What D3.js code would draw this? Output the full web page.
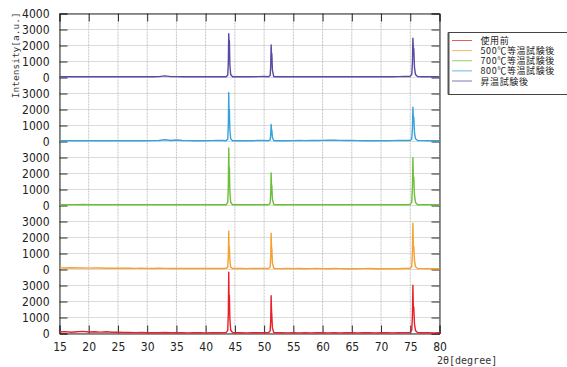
<!DOCTYPE html>
<html>
<head>
<meta charset="utf-8">
<script src="https://cdn.jsdelivr.net/npm/d3@7"></script>
<style>
  body { margin: 0; background: #fff; }
  svg { display: block; }
</style>
</head>
<body>
<svg id="chart" width="567" height="367"></svg>
<script>
// ---- data -------------------------------------------------------------
// stacked XRD patterns, bottom to top
const seriesNames = ["使用前", "500℃等温試験後", "700℃等温試験後", "800℃等温試験後", "昇温試験後"];
const seriesColors = ["#e8202c", "#f5a030", "#6cbf3a", "#36a2dc", "#5a48a2"];

// scan angles for the background part of each pattern (2θ, degree)
const scanAngles = [15,16,17,18,19,20,21,22,23,24,25,26,27,28,29,30,31,32,33,34,
  35,36,37,38,39,40,41,42,43,44,45,46,47,48,49,50,51,52,53,54,
  55,56,57,58,59,60,61,62,63,64,65,66,67,68,69,70,71,72,73,74,
  75,76,77,78,79,80];

// background intensity on scanAngles
const bgUsed = [90,120,80,110,130,95,110,85,105,75, 85,65,70,55,60,50,55,45,60,50,
  45,50,40,45,55,40,50,45,55,60, 50,45,40,50,45,55,60,50,45,40,
  45,40,50,40,45,50,40,45,40,50, 45,40,50,45,40,45,50,40,45,55, 60,60,50,45,40,45];
const bg500 = [100,90,110,95,100,85,95,90,80,85, 80,75,85,70,75,70,65,75,70,65,
  70,60,65,70,60,65,60,70,65,70, 60,65,55,60,65,60,70,60,55,60,
  55,60,50,55,60,55,50,60,55,50, 55,50,55,60,50,55,50,55,50,60, 60,60,55,50,55,50];
const bg700 = [50,55,45,50,60,45,50,55,45,50, 45,50,55,45,50,45,50,55,45,50,
  45,50,45,55,50,45,50,45,50,55, 50,45,50,45,55,50,55,50,45,50,
  45,50,45,50,45,55,50,45,50,45, 50,45,50,45,50,45,50,45,50,55, 60,60,50,45,50,45];
const bg800 = [50,45,55,50,45,50,55,45,50,45, 50,55,45,50,55,50,55,60,110,60,
  95,60,55,50,55,50,55,60,65,60, 55,50,55,50,60,60,55,50,55,50,
  55,60,55,60,65,70,80,85,70,60, 60,55,50,55,50,55,50,55,60,65, 60,60,55,50,55,50];
const bgRamp = [45,50,45,55,50,45,50,45,55,50, 45,50,55,45,50,45,50,55,105,55,
  55,50,45,50,55,50,45,50,55,60, 55,50,45,50,55,60,55,50,45,50,
  50,45,50,55,50,45,50,55,50,45, 50,45,55,50,45,50,55,50,55,60, 60,60,50,55,50,45];

// diffraction peaks [2θ, intensity]
const peaksUsed = [
  [43.5,60],[43.78,200],[43.88,1300],[43.95,3830],[44.0,2300],[44.06,2375],[44.14,900],[44.28,220],[44.6,60],
  [50.75,50],[51.03,150],[51.13,800],[51.2,2360],[51.26,1500],[51.32,1100],[51.42,350],[51.65,60],
  [74.95,60],[75.25,200],[75.37,1100],[75.45,3020],[75.52,1700],[75.6,1640],[75.72,600],[75.9,180],[76.25,60]
];
const peaks500 = [
  [43.5,70],[43.78,150],[43.88,850],[43.95,2400],[44.0,1450],[44.06,1400],[44.14,560],[44.28,150],[44.6,60],
  [50.75,60],[51.03,140],[51.13,760],[51.2,2270],[51.26,1420],[51.32,1300],[51.42,400],[51.65,70],
  [74.95,60],[75.25,190],[75.37,1050],[75.45,2890],[75.52,1500],[75.6,1440],[75.72,560],[75.9,170],[76.25,60]
];
const peaks700 = [
  [43.5,50],[43.78,180],[43.88,1250],[43.95,3600],[44.0,2350],[44.06,2400],[44.14,850],[44.28,200],[44.6,50],
  [50.75,50],[51.03,130],[51.13,700],[51.2,2040],[51.26,1300],[51.32,1250],[51.42,380],[51.65,60],
  [74.95,50],[75.25,200],[75.37,1100],[75.45,2980],[75.52,1800],[75.6,1770],[75.72,650],[75.9,190],[76.25,50]
];
const peaks800 = [
  [43.5,50],[43.78,160],[43.88,1050],[43.95,3060],[44.0,1950],[44.06,2000],[44.14,720],[44.28,180],[44.6,50],
  [50.75,50],[51.03,100],[51.13,400],[51.2,1060],[51.26,760],[51.32,700],[51.42,250],[51.65,60],
  [74.95,60],[75.25,160],[75.37,800],[75.45,2140],[75.52,1550],[75.6,1520],[75.72,560],[75.9,170],[76.25,60]
];
const peaksRamp = [
  [43.5,50],[43.78,150],[43.88,950],[43.95,2730],[44.0,2250],[44.06,2300],[44.14,800],[44.28,190],[44.6,50],
  [50.75,50],[51.03,130],[51.13,700],[51.2,2040],[51.26,1500],[51.32,1480],[51.42,450],[51.65,60],
  [74.95,60],[75.25,180],[75.37,900],[75.45,2450],[75.52,1850],[75.6,1800],[75.72,620],[75.9,180],[76.25,60]
];

const backgrounds = [bgUsed, bg500, bg700, bg800, bgRamp];
const peakSets = [peaksUsed, peaks500, peaks700, peaks800, peaksRamp];

// axis ticks
const xTickValues = [15,20,25,30,35,40,45,50,55,60,65,70,75,80];
const panelTickLabels = ["0","1000","2000","3000"];
const topTickLabel = "4000";
const panelSpan = 4000;            // each pattern is shifted up by this much
const xTitle = "2θ[degree]";
const yTitle = "Intensity[a.u.]";

// ---- layout -----------------------------------------------------------
const svg = d3.select("#chart");
const plot = { left: 59.5, right: 439.5, top: 13.5, bottom: 333.5 };
const nPanels = seriesNames.length;

const x = d3.scaleLinear().domain([15, 80]).range([plot.left, plot.right]);
const y = d3.scaleLinear().domain([0, panelSpan * nPanels]).range([plot.bottom, plot.top]);

// tick positions on the stacked scale
const yTickValues = [];
for (let p = 0; p < nPanels; p++) {
  panelTickLabels.forEach((_, k) => yTickValues.push(p * panelSpan + k * 1000));
}
yTickValues.push(nPanels * panelSpan);
const yLabel = v => v === nPanels * panelSpan ? topTickLabel : panelTickLabels[(v % panelSpan) / 1000];

const tickFont = "'Liberation Sans Narrow', 'Arial Narrow', 'DejaVu Sans Condensed', sans-serif";

// grid
const grid = svg.append("g");
grid.selectAll("line.h").data(yTickValues).join("line")
  .attr("x1", plot.left).attr("x2", plot.right)
  .attr("y1", d => y(d)).attr("y2", d => y(d))
  .attr("stroke", "#b8b8b8").attr("stroke-width", 1).attr("stroke-dasharray", "1,1");
grid.selectAll("line.v").data(xTickValues).join("line")
  .attr("x1", d => x(d)).attr("x2", d => x(d))
  .attr("y1", plot.top).attr("y2", plot.bottom)
  .attr("stroke", "#c4c4c4").attr("stroke-width", 1).attr("stroke-dasharray", "2,1");

// axes (ticks point into the plot)
const tickLen = 8;
const axisBottom = d3.axisBottom(x).tickValues(xTickValues).tickSize(-tickLen).tickPadding(tickLen + 1).tickFormat(d3.format("d"));
const axisTop = d3.axisTop(x).tickValues(xTickValues).tickSize(-tickLen).tickFormat("");
const axisLeft = d3.axisLeft(y).tickValues(yTickValues).tickSize(-tickLen).tickPadding(tickLen + 2).tickFormat(yLabel);
const axisRight = d3.axisRight(y).tickValues(yTickValues).tickSize(-tickLen).tickFormat("");

function styleAxis(g) {
  g.select(".domain").attr("stroke", "#2a2a2a");
  g.selectAll(".tick line").attr("stroke", "#2a2a2a");
  g.selectAll(".tick text").attr("fill", "#222").style("font-family", tickFont).style("font-size", "12px");
}
svg.append("g").attr("transform", `translate(0,${plot.bottom})`).call(axisBottom).call(styleAxis);
svg.append("g").attr("transform", `translate(0,${plot.top})`).call(axisTop).call(styleAxis);
svg.append("g").attr("transform", `translate(${plot.left},0)`).call(axisLeft).call(styleAxis);
svg.append("g").attr("transform", `translate(${plot.right},0)`).call(axisRight).call(styleAxis);

// ---- patterns ---------------------------------------------------------
function patternPoints(i) {
  const pk = peakSets[i];
  const windows = [];
  for (let a = 0; a < pk.length; a++) {
    const start = pk[a][0];
    let b = a;
    while (b + 1 < pk.length && pk[b + 1][0] - pk[b][0] < 1) b++;
    windows.push([start, pk[b][0]]);
    a = b;
  }
  const bg = scanAngles.map((t, k) => [t, backgrounds[i][k]])
    .filter(([t]) => !windows.some(([s, e]) => t >= s && t <= e));
  return bg.concat(pk).sort((p, q) => p[0] - q[0]);
}

const line = d3.line().x(d => x(d[0])).y(d => d[1]);
const lines = svg.append("g");
seriesNames.forEach((name, i) => {
  const pts = patternPoints(i).map(([t, v]) => [t, y(i * panelSpan + v)]);
  lines.append("path")
    .attr("d", line(pts))
    .attr("fill", "none")
    .attr("stroke", seriesColors[i])
    .attr("stroke-width", 1.4)
    .attr("stroke-linejoin", "round");
});

// ---- titles -----------------------------------------------------------
svg.append("text")
  .attr("transform", `translate(15,${(plot.top + 97) / 2}) rotate(-90)`)
  .attr("text-anchor", "middle").attr("dominant-baseline", "central")
  .style("font-family", "'DejaVu Sans Mono', monospace").style("font-size", "9.5px")
  .attr("fill", "#333")
  .text(yTitle);

svg.append("text")
  .attr("x", 437).attr("y", 363.5)
  .style("font-family", "'DejaVu Sans Mono', monospace").style("font-size", "10px")
  .attr("fill", "#333")
  .text(xTitle);

// ---- legend -----------------------------------------------------------
const legend = svg.append("g");
legend.append("rect")
  .attr("x", 448.5).attr("y", 32.5).attr("width", 130).attr("height", 62)
  .attr("fill", "#fff").attr("stroke", "#444").attr("stroke-width", 1);
legend.append("line")
  .attr("x1", 448.5).attr("x2", 448.5).attr("y1", 32.5).attr("y2", 94.5)
  .attr("stroke", "#555").attr("stroke-width", 2);
const rowY = d3.scalePoint().domain(seriesNames).range([40.5, 81]);
seriesNames.forEach((name, i) => {
  legend.append("line")
    .attr("x1", 452).attr("x2", 472)
    .attr("y1", rowY(name)).attr("y2", rowY(name))
    .attr("stroke", seriesColors[i]).attr("stroke-width", 1).attr("stroke-opacity", 0.75);
  legend.append("text")
    .attr("x", 480.5).attr("y", rowY(name))
    .attr("dominant-baseline", "central")
    .style("font-family", "'Noto Sans CJK JP', sans-serif").style("font-size", "9px")
    .attr("letter-spacing", "0.6px")
    .attr("fill", "#222")
    .text(name);
});
</script>
</body>
</html>
